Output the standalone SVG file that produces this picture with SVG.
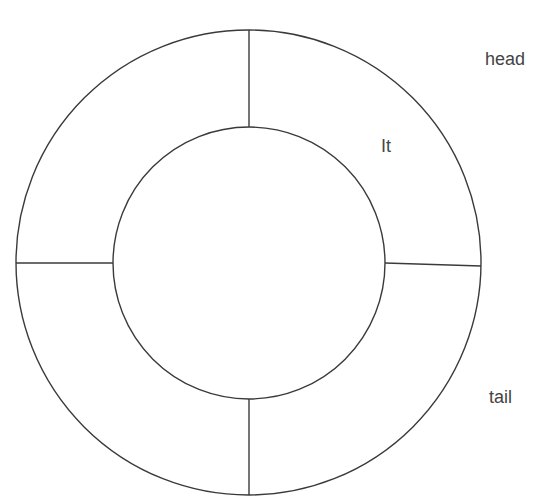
<svg xmlns="http://www.w3.org/2000/svg" width="533" height="499" viewBox="0 0 533 499">
<style>
.ring{fill:none;stroke:#3a3a3a;stroke-width:1.4}
.conn{stroke:#3a3a3a;stroke-width:1.4;fill:none}
.lbl{font-family:"Liberation Sans",Arial,sans-serif;font-size:18px;fill:#444}
</style>
<rect width="533" height="499" fill="#ffffff"/>
<g id="outer-ring"><circle class="ring" cx="248.5" cy="262.5" r="232.5"/></g>
<g id="inner-ring"><circle class="ring" cx="249" cy="263" r="136"/></g>
<g id="connectors">
<line class="conn" x1="249" y1="30" x2="249" y2="127"/>
<line class="conn" x1="16" y1="263" x2="113" y2="263"/>
<line class="conn" x1="385" y1="263" x2="481" y2="266"/>
<line class="conn" x1="249" y1="399" x2="249" y2="495"/>
</g>
<g id="label-head"><text class="lbl" x="485" y="65">head</text></g>
<g id="label-it"><text class="lbl" x="381" y="152">It</text></g>
<g id="label-tail"><text class="lbl" x="489" y="403">tail</text></g>
</svg>
